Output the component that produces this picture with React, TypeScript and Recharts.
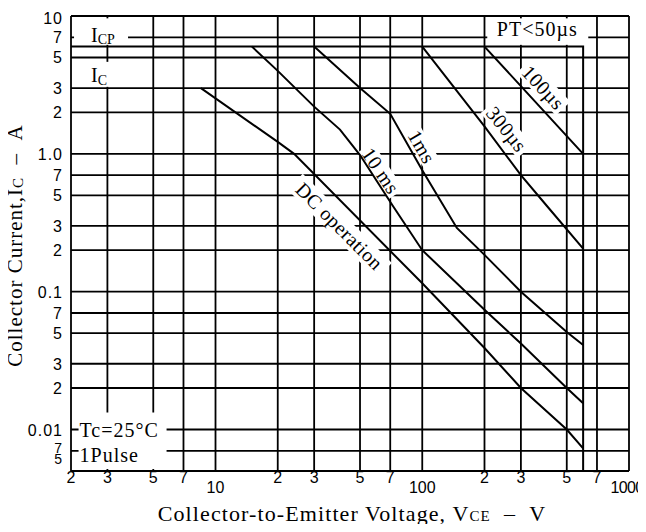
import React from "react";
import {
  CartesianGrid,
  Label,
  Line,
  LineChart,
  ReferenceDot,
  XAxis,
  YAxis,
} from "recharts";

// Safe operating area, log-log.
const xTicks = [2, 3, 5, 7, 10, 20, 30, 50, 70, 100, 200, 300, 500, 700, 1000];
const yTicks = [
  0.005, 0.007, 0.01, 0.02, 0.03, 0.05, 0.07, 0.1, 0.2, 0.3, 0.5, 0.7, 1, 2, 3,
  5, 7, 10,
];

// ICP = 6 A and VCE max = 600 V boundary
const limitV = [2, 600, 600];
const limitI = [6, 6, 0.005];

const us100V = [200, 300, 600];
const us100I = [6, 3.1, 1.0];

const us300V = [100, 200, 300, 400, 600];
const us300I = [6, 1.58, 0.7, 0.42, 0.205];

const ms1V = [30, 50, 70, 100, 147, 200, 300, 500, 600];
const ms1I = [6, 3, 1.95, 0.76, 0.29, 0.185, 0.1, 0.051, 0.041];

const ms10V = [15, 20, 30, 40, 50, 72, 100, 200, 300, 500, 600];
const ms10I = [6, 4, 2.2, 1.5, 0.98, 0.42, 0.2, 0.074, 0.042, 0.02, 0.0155];

const dcV = [8.5, 20, 24, 100, 200, 300, 500, 600];
const dcI = [3, 1.22, 1.0, 0.115, 0.039, 0.02, 0.01, 0.0073];

const noteText = ["100\u00b5s", "300\u00b5s", "1ms", "10 ms", "DC operation"];
const noteV = [385, 256, 99.5, 63, 39.8];
const noteI = [3.03, 1.51, 1.126, 0.754, 0.299];

const SERIF = "'Liberation Serif', 'Times New Roman', serif";
const SANS = "'Liberation Sans', Arial, sans-serif";

const pts = (xs: number[], ys: number[]) => xs.map((x, i) => ({ x, y: ys[i] }));

const lead = (v: number) =>
  String(Math.round(v / Math.pow(10, Math.floor(Math.log10(v) + 1e-9))));

const XTick = ({ x, y, payload }: any) => {
  const v = payload.value;
  const decade = v === 10 || v === 100 || v === 1000;
  const last = v === 1000;
  return (
    <text
      x={last ? x - 2 : x}
      y={y + (decade ? 22 : 12)}
      textAnchor="middle"
      fontFamily={SANS}
      fontSize={16}
      letterSpacing={last ? -0.6 : 0}
      fill="#000"
    >
      {decade ? String(v) : lead(v)}
    </text>
  );
};

const yText = (v: number) => {
  if (Math.abs(v - 10) < 1e-9) return "10";
  if (Math.abs(v - 1) < 1e-9) return "1.0";
  if (Math.abs(v - 0.1) < 1e-9) return "0.1";
  if (Math.abs(v - 0.01) < 1e-9) return "0.01";
  return lead(v);
};

const YTick = ({ x, y, payload }: any) => {
  const v = payload.value;
  let dy = 6;
  let size = 16;
  if (v < 0.006) {
    dy = -7;
    size = 14;
  } else if (v < 0.008) {
    dy = 2;
    size = 14;
  }
  if (v > 9) dy = 8;
  return (
    <text
      x={x}
      y={y + dy}
      textAnchor="end"
      fontFamily={SANS}
      fontSize={size}
      letterSpacing={1}
      fill="#000"
    >
      {yText(v)}
    </text>
  );
};

const rotNote =
  (text: string, angle: number, w: number, h: number) => (p: any) => (
    <g transform={`translate(${p.cx},${p.cy}) rotate(${angle})`}>
      <rect x={-w / 2} y={-h / 2} width={w} height={h} fill="#fff" />
      <text
        x={0}
        y={7}
        textAnchor="middle"
        fontFamily={SERIF}
        fontSize={20}
        letterSpacing={0.5}
        fill="#000"
      >
        {text}
      </text>
    </g>
  );

const icpNote = (p: any) => (
  <g>
    <rect x={p.cx - 17} y={p.cy - 19} width={54} height={26.5} fill="#fff" />
    <text x={p.cx} y={p.cy + 5} fontFamily={SERIF} fontSize={20} fill="#000">
      I
      <tspan fontSize={14} dy={2}>
        CP
      </tspan>
    </text>
  </g>
);

const icNote = (p: any) => (
  <g>
    <rect x={p.cx - 6} y={p.cy - 17} width={40} height={25} fill="#fff" />
    <text x={p.cx} y={p.cy + 3} fontFamily={SERIF} fontSize={20} fill="#000">
      I
      <tspan fontSize={14} dy={3}>
        C
      </tspan>
    </text>
  </g>
);

const ptNote = (p: any) => (
  <g>
    <rect x={p.cx - 50} y={p.cy - 19} width={101} height={26.5} fill="#fff" />
    <text
      x={p.cx}
      y={p.cy - 1}
      textAnchor="middle"
      fontFamily={SERIF}
      fontSize={20}
      letterSpacing={1}
      fill="#000"
    >
      {"PT<50\u00b5s"}
    </text>
  </g>
);

const tcNote = (p: any) => (
  <g>
    <rect x={p.cx - 1} y={p.cy - 17} width={88} height={56.5} fill="#fff" />
    <text
      x={p.cx}
      y={p.cy + 7}
      fontFamily={SERIF}
      fontSize={20}
      letterSpacing={1}
      fill="#000"
    >
      Tc=25°C
    </text>
    <text
      x={p.cx}
      y={p.cy + 32}
      fontFamily={SERIF}
      fontSize={20}
      letterSpacing={1}
      fill="#000"
    >
      1Pulse
    </text>
  </g>
);

const YTitle = ({ viewBox }: any) => {
  const cx = viewBox.x + 22;
  const cy = viewBox.y + viewBox.height / 2 + 2;
  return (
    <text
      x={cx}
      y={cy}
      transform={`rotate(-90 ${cx} ${cy})`}
      textAnchor="middle"
      fontFamily={SERIF}
      fontSize={21}
      letterSpacing={1}
      fill="#000"
    >
      Collector Current,I
      <tspan fontSize={15} dy={1}>
        C
      </tspan>
      <tspan dy={-1}>{"\u00a0\u00a0\u2013\u00a0\u00a0A"}</tspan>
    </text>
  );
};

const XTitle = ({ viewBox }: any) => {
  const cx = viewBox.x + viewBox.width / 2 + 2;
  const cy = viewBox.y + 50;
  return (
    <text
      x={cx}
      y={cy}
      textAnchor="middle"
      fontFamily={SERIF}
      fontSize={22}
      letterSpacing={1.1}
      fill="#000"
    >
      Collector-to-Emitter Voltage, V
      <tspan fontSize={15}>CE</tspan>
      <tspan>{"\u00a0\u00a0\u2013\u00a0\u00a0V"}</tspan>
    </text>
  );
};

const angles = [47, 51, 60, 56, 45];
const boxW = [58, 58, 40, 56, 126];
const boxH = [20, 20, 18, 18, 22];

export default function App() {
  const curves = [
    pts(us100V, us100I),
    pts(us300V, us300I),
    pts(ms1V, ms1I),
    pts(ms10V, ms10I),
    pts(dcV, dcI),
  ];
  return (
    <div style={{ margin: -8, width: 646, height: 532, background: "#fff" }}>
      <LineChart
        width={646}
        height={532}
        margin={{ top: 16, right: 17, bottom: 0, left: 0 }}
        style={{ overflow: "visible" }}
      >
        <CartesianGrid stroke="#000" strokeWidth={1.8} />
        <XAxis
          type="number"
          dataKey="x"
          scale="log"
          domain={[2, 1000]}
          ticks={xTicks}
          interval={0}
          allowDataOverflow
          axisLine={false}
          tickLine={false}
          tickSize={0}
          tickMargin={0}
          height={61}
          tick={<XTick />}
        >
          <Label content={<XTitle />} />
        </XAxis>
        <YAxis
          type="number"
          dataKey="y"
          scale="log"
          domain={[0.005, 10]}
          ticks={yTicks}
          interval={0}
          allowDataOverflow
          axisLine={false}
          tickLine={false}
          tickSize={0}
          tickMargin={8}
          width={71}
          tick={<YTick />}
        >
          <Label content={<YTitle />} />
        </YAxis>

        <ReferenceDot x={2.5} y={7} r={0} shape={icpNote} zIndex={-50} />
        <ReferenceDot x={2.5} y={3.5} r={0} shape={icNote} zIndex={-50} />
        <ReferenceDot x={360} y={7} r={0} shape={ptNote} zIndex={-50} />
        <ReferenceDot x={2.2} y={0.01} r={0} shape={tcNote} zIndex={-50} />
        {noteText.map((t, i) => (
          <ReferenceDot
            key={t}
            x={noteV[i]}
            y={noteI[i]}
            r={0}
            zIndex={-50}
            shape={rotNote(t, angles[i], boxW[i], boxH[i])}
          />
        ))}

        <Line
          data={pts(limitV, limitI)}
          dataKey="y"
          type="linear"
          stroke="#000"
          strokeWidth={2}
          dot={false}
          isAnimationActive={false}
        />
        {curves.map((d, i) => (
          <Line
            key={noteText[i]}
            data={d}
            dataKey="y"
            type="linear"
            stroke="#000"
            strokeWidth={2}
            dot={false}
            isAnimationActive={false}
          />
        ))}
      </LineChart>
    </div>
  );
}
